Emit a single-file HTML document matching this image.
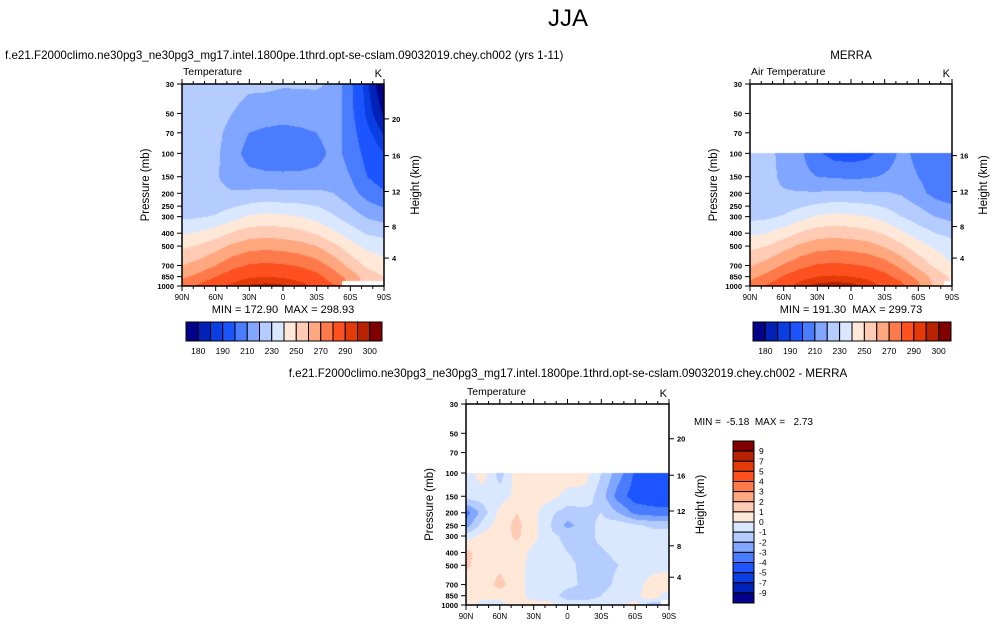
<!DOCTYPE html>
<html><head><meta charset="utf-8">
<style>
html,body{margin:0;padding:0;background:#fff;}
#wrap{position:relative;width:993px;height:628px;overflow:hidden;font-family:"Liberation Sans",sans-serif;}
canvas{position:absolute;}
svg{position:absolute;left:0;top:0;}
text{font-family:"Liberation Sans",sans-serif;fill:#000;white-space:pre;}
</style></head>
<body>
<div id="wrap">
<canvas id="c1" width="202" height="202" style="left:182px;top:84px"></canvas>
<canvas id="c2" width="202" height="202" style="left:750px;top:84px"></canvas>
<canvas id="c3" width="203" height="201" style="left:466px;top:404px"></canvas>
<svg id="s" width="993" height="628"></svg>
</div>
<script>
const lats=[90,75,60,45,30,15,0,-15,-30,-45,-60,-75,-90];
const pressures=[1000,850,700,500,400,300,250,200,150,100,70,50,30];
const modelT=[
[277,282,288,292,296,297,296,293,288,281,null,null,null],
[268,273,280,286,289,290,289,287,283,275,266,255,250],
[260,264,270,277,281,282,281,279,275,267,257,248,244],
[248,251,256,262,266,267,266,264,260,253,244,237,235],
[239,241,245,251,255,256,255,253,249,242,235,229,227],
[228,229,231,236,241,243,242,240,236,231,225,219,216],
[225,225,226,229,232,234,233,232,230,226,220,213,209],
[224,223,222,221,222,223,222,222,222,220,214,206,201],
[225,224,221,216,213,212,212,212,213,215,210,200,195],
[226,225,222,214,206,204,203,204,206,213,207,196,190],
[227,226,223,216,210,208,207,208,210,215,205,192,184],
[228,227,225,220,216,215,214,215,216,217,203,188,179],
[229,228,227,224,222,222,221,221,221,219,202,186,174]];
const merraT=[
[275,281,288,293,297,298,297,294,289,283,272,258,null],
[267,273,281,287,290,291,290,288,283,276,267,256,248],
[259,264,271,277,281,282,281,279,275,267,257,248,240],
[247,250,256,262,266,267,266,264,259,252,244,238,234],
[238,240,245,251,255,256,255,253,249,242,235,230,227],
[227,228,231,236,241,243,242,240,236,230,225,220,217],
[224,224,226,229,232,234,233,232,229,225,220,214,211],
[228,222,221,221,221,222,222,221,221,219,213,207,204],
[226,223,218,213,210,209,208,209,211,213,210,205,201],
[224,222,218,212,202,196,195,197,205,212,208,203,201],
[null,null,null,null,null,null,null,null,null,null,null,null,null],
[null,null,null,null,null,null,null,null,null,null,null,null,null],
[null,null,null,null,null,null,null,null,null,null,null,null,null]];
const diffT=[
[0.5,-0.5,-0.5,0.5,0.5,0.3,-0.5,-0.5,-0.5,-0.5,0.5,-2,null],
[0.3,0.5,0.5,0.5,-0.5,-0.5,-1.5,-1.5,-1,-0.5,-0.5,1,-1],
[0.5,0.5,1.3,0.5,-0.5,-0.5,-0.7,-1.2,-1.3,-0.8,-0.5,0.5,1],
[1.2,0.5,0.8,0.3,-0.3,-0.6,-0.8,-1.2,-1.3,-1,-0.6,-0.5,-0.5],
[1.3,0.5,0.5,0.5,-0.3,-0.7,-1.0,-1.2,-1.1,-0.8,-0.6,-0.5,-0.5],
[-0.5,0.3,0.5,1.2,0.3,-0.8,-1.2,-1.3,-0.8,-0.5,-0.5,-0.5,-0.5],
[-2.5,-0.5,0.5,1.3,0.3,-1.0,-2.3,-1.5,-0.7,-0.4,-0.8,-1.2,-1.2],
[-3.5,-1.5,0.3,1.0,0.3,-0.8,-1.5,-1.3,-1.0,-2.0,-3.3,-3.5,-3.5],
[-0.5,-0.5,-0.5,0.3,0.5,0.3,-0.3,-0.4,-1.5,-3.5,-4.5,-4.8,-5],
[-0.5,0.5,-1.5,0.5,0.5,0.5,0.5,0.5,-1,-2.5,-4.2,-4.5,-4.5],
[null,null,null,null,null,null,null,null,null,null,null,null,null],
[null,null,null,null,null,null,null,null,null,null,null,null,null],
[null,null,null,null,null,null,null,null,null,null,null,null,null]];
const levelsT=[180,185,190,200,210,220,230,240,250,260,270,280,290,295,300];
const levelsD=[-9,-7,-5,-4,-3,-2,-1,0,1,2,3,4,5,7,9];
const labelsT=["180","190","210","230","250","270","290","300"];
const labelIdxT=[0,2,4,6,8,10,12,14];
const colors=["#02028a","#0022b8","#0a3de2","#1c55ff","#4a7cff","#80a6ff","#b4ccff","#dae8ff","#ffe8d8","#ffcbb5","#ffa880","#ff7a4a","#ff5020","#e43a08","#b82200","#800000"];
const pTicks=[30,50,70,100,150,200,250,300,400,500,700,850,1000];
const hTicks=[4,8,12,16,20];
const hTickP=[616,356,194,104,55];
const latTicks=["90N","60N","30N","0","30S","60S","90S"];

function hex(c){return [parseInt(c.substr(1,2),16),parseInt(c.substr(3,2),16),parseInt(c.substr(5,2),16)];}
const rgb=colors.map(hex);
function band(v,lev){let i=0;while(i<lev.length&&v>=lev[i])i++;return i;}
function fill(id,grid,lev){
  const cv=document.getElementById(id),ctx=cv.getContext('2d');
  const W=cv.width,H=cv.height,img=ctx.createImageData(W,H);
  const L0=Math.log(30),L1=Math.log(1000);
  const lp=pressures.map(p=>Math.log(p));
  const rowNull=grid.map(r=>r.every(v=>v===null));
  for(let y=0;y<H;y++){
    const L=L0+(y+0.5)/H*(L1-L0);
    let j=0;while(j<lp.length-2&&!(L<=lp[j]&&L>=lp[j+1]))j++;
    const fy=(lp[j]-L)/(lp[j]-lp[j+1]);
    if(rowNull[j+1]&&fy>0.001)continue;
    for(let x=0;x<W;x++){
      const fx=(x+0.5)/W*(lats.length-1);
      let i=Math.min(Math.floor(fx),lats.length-2);const tx=fx-i;
      const c=[[grid[j][i],(1-tx)*(1-fy)],[grid[j][i+1],tx*(1-fy)],[grid[j+1][i],(1-tx)*fy],[grid[j+1][i+1],tx*fy]];
      let best=c[0];for(const q of c)if(q[1]>best[1])best=q;
      if(best[0]===null)continue;
      let s=0,w=0;for(const q of c)if(q[0]!==null){s+=q[0]*q[1];w+=q[1];}
      const v=s/w,col=rgb[band(v,lev)],k=(y*W+x)*4;
      img.data[k]=col[0];img.data[k+1]=col[1];img.data[k+2]=col[2];img.data[k+3]=255;
    }
  }
  ctx.putImageData(img,0,0);
}
fill('c1',modelT,levelsT);fill('c2',merraT,levelsT);fill('c3',diffT,levelsD);

const S=document.getElementById('s'),NS='http://www.w3.org/2000/svg';
function el(t,a,txt){const e=document.createElementNS(NS,t);for(const k in a)e.setAttribute(k,a[k]);if(txt!==undefined)e.textContent=txt;S.appendChild(e);return e;}
function T(x,y,s,txt,anchor,name,extra){const e=el('text',Object.assign({x:x,y:y,'font-size':s,'text-anchor':anchor||'start'},extra||{}),txt);


return e;}

function axes(x0,y0,w,h,title,hmax,prefix){
  const yP=p=>y0+(Math.log(p)-Math.log(30))/(Math.log(1000)-Math.log(30))*h;
  const xL=l=>x0+(90-l)/180*w;
  const fr=el('rect',{x:x0,y:y0,width:w,height:h,fill:'none',stroke:'#000','stroke-width':1.5});
  
  
  for(let l=90;l>=-90;l-=10){
    const major=l%30===0,len=major?5:3,x=xL(l);
    el('line',{x1:x,x2:x,y1:y0+h,y2:y0+h+len,stroke:'#000','stroke-width':1});
    el('line',{x1:x,x2:x,y1:y0,y2:y0-len,stroke:'#000','stroke-width':1});
  }
  latTicks.forEach((t,k)=>T(xL(90-30*k),y0+h+14,8,t,'middle',prefix+'-x-tick-label'));
  pTicks.forEach(p=>{const y=yP(p);el('line',{x1:x0-5,x2:x0,y1:y,y2:y,stroke:'#000','stroke-width':1});
    T(x0-8,y+3,7.5,String(p),'end',prefix+'-y-tick-label',{'font-weight':'bold'});});
  hTicks.forEach((hk,k)=>{const p=hTickP[k];if(p<hmax)return;const y=yP(p);
    el('line',{x1:x0+w,x2:x0+w+5,y1:y,y2:y,stroke:'#000','stroke-width':1});
    T(x0+w+8,y+3,7.5,String(hk),'start',prefix+'-height-tick-label',{'font-weight':'bold'});});
  T(x0+1,y0-9,10.5,title,'start',prefix+'-left-subtitle');
  T(x0+w-2,y0-7,11,'K','end',prefix+'-units-label');
  T(0,0,11.5,'Pressure (mb)','middle',prefix+'-y-axis-title',{transform:`translate(${x0-33},${y0+h/2}) rotate(-90)`});
  T(0,0,11.5,'Height (km)','middle',prefix+'-right-axis-title',{transform:`translate(${x0+w+35},${y0+h/2}) rotate(-90)`});
}
axes(182,84,202,202,'Temperature',0,'model');
axes(750,84,202,202,'Air Temperature',100,'merra');
axes(466,404,203,201,'Temperature',0,'diff');

function hbar(x0,y0,w,h,prefix){
  const bw=w/colors.length;
  colors.forEach((c,k)=>{const r=el('rect',{x:x0+k*bw,y:y0,width:bw,height:h,fill:c,stroke:'#000','stroke-width':1});
    
    });
  labelIdxT.forEach((bi,k)=>T(x0+(bi+1)*bw,y0+h+13,8.5,labelsT[k],'middle',prefix+'-colorbar-label'));
}
hbar(186,322,196,19,'model');
hbar(753,322,198,19,'merra');
(function(){const x0=733,y0=441,w=21,h=162,bh=h/colors.length;
  for(let k=0;k<colors.length;k++){const r=el('rect',{x:x0,y:y0+k*bh,width:w,height:bh,fill:colors[colors.length-1-k],stroke:'#000','stroke-width':1});
    
    }
  for(let k=0;k<levelsD.length;k++){const v=levelsD[levelsD.length-1-k];
    T(x0+w+5,y0+(k+1)*bh+3,8.5,String(v),'start','diff-colorbar-label');}
})();

T(568,26,24,'JJA','middle','figure-title');
T(5,59,11.6,'f.e21.F2000climo.ne30pg3_ne30pg3_mg17.intel.1800pe.1thrd.opt-se-cslam.09032019.chey.ch002 (yrs 1-11)','start','model-title');
T(851,59,11.5,'MERRA','middle','merra-title');
T(568,377,11.6,'f.e21.F2000climo.ne30pg3_ne30pg3_mg17.intel.1800pe.1thrd.opt-se-cslam.09032019.chey.ch002 - MERRA','middle','diff-title');
T(283,313,11,'MIN = 172.90  MAX = 298.93','middle','model-min-max');
T(851,313,11,'MIN = 191.30  MAX = 299.73','middle','merra-min-max');
T(694,425,10,'MIN =  -5.18  MAX =   2.73','start','diff-min-max');
</script>
</body></html>
